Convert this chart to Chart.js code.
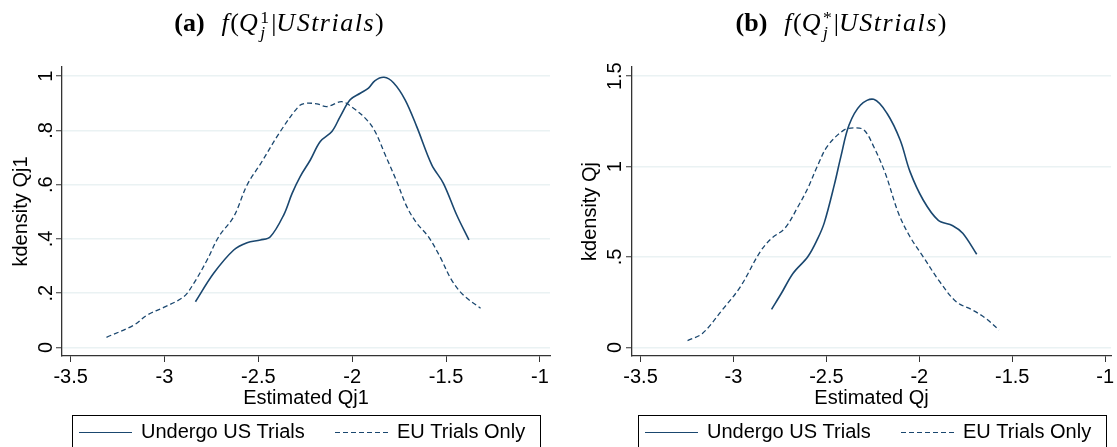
<!DOCTYPE html>
<html lang="en">
<head>
<meta charset="UTF-8">
<title>Kernel densities of estimated Qj</title>
<script src="https://cdn.jsdelivr.net/npm/chart.js@4.4.0/dist/chart.umd.min.js"></script>
<style>
  body { margin: 0; background: #fff; }
  .page { position: relative; width: 1117px; height: 447px; overflow: hidden; }
  .panel { position: absolute; top: 0; }
  .cap { position: absolute; top: 8px; font-family: "Liberation Serif", "DejaVu Serif", serif; font-size: 26px; white-space: nowrap; transform: translateX(-50%); color: #000; }
  .cap b { margin-right: 17px; }
  .cap i { letter-spacing: 1.5px; }
  .ss { display: inline-block; vertical-align: -0.42em; line-height: 0.9; font-size: 0.68em; margin: 0 2px 0 1px; }
  .ss span { display: block; }
</style>
</head>
<body>
<div class="page">
  <canvas id="panelA" class="panel" width="558" height="447" style="left:0"></canvas>
  <canvas id="panelB" class="panel" width="559" height="447" style="left:558px"></canvas>
  <div class="cap" style="left:279px"><b>(a)</b><i>f</i>(<i>Q</i><span class="ss"><span>1</span><span><i>j</i></span></span>|<i>UStrials</i>)</div>
  <div class="cap" style="left:841px"><b>(b)</b><i>f</i>(<i>Q</i><span class="ss"><span>*</span><span><i>j</i></span></span>|<i>UStrials</i>)</div>
</div>
<script>
// kernel density estimates, panel (a): Qj1
const usQj1X = [-2.835, -2.738, -2.631, -2.56, -2.489, -2.436, -2.365, -2.32, -2.277, -2.223, -2.17, -2.108, -2.064, -2.011, -1.957, -1.913, -1.878, -1.83, -1.78, -1.718, -1.656, -1.576, -1.514, -1.443, -1.378];
const usQj1Y = [0.168, 0.273, 0.359, 0.386, 0.396, 0.408, 0.488, 0.568, 0.63, 0.691, 0.759, 0.796, 0.851, 0.913, 0.937, 0.956, 0.984, 0.996, 0.976, 0.913, 0.814, 0.673, 0.605, 0.488, 0.396];
const euQj1X = [-3.309, -3.163, -3.092, -2.995, -2.897, -2.844, -2.773, -2.711, -2.631, -2.56, -2.489, -2.383, -2.286, -2.25, -2.188, -2.135, -2.055, -1.993, -1.922, -1.878, -1.824, -1.762, -1.709, -1.656, -1.594, -1.532, -1.47, -1.408, -1.316];
const euQj1Y = [0.037, 0.082, 0.119, 0.15, 0.187, 0.236, 0.322, 0.408, 0.482, 0.599, 0.676, 0.796, 0.888, 0.9, 0.898, 0.888, 0.906, 0.882, 0.839, 0.796, 0.71, 0.611, 0.519, 0.458, 0.408, 0.334, 0.248, 0.193, 0.144];

// panel (b): Qj
const usQjX = [-2.795, -2.742, -2.679, -2.6, -2.546, -2.511, -2.457, -2.422, -2.378, -2.316, -2.245, -2.174, -2.103, -2.05, -1.979, -1.899, -1.82, -1.766, -1.691];
const usQjY = [0.21, 0.299, 0.41, 0.501, 0.603, 0.69, 0.9, 1.055, 1.23, 1.341, 1.372, 1.295, 1.147, 0.972, 0.815, 0.704, 0.673, 0.631, 0.515];
const euQjX = [-3.247, -3.167, -3.061, -2.963, -2.856, -2.795, -2.723, -2.653, -2.6, -2.546, -2.493, -2.404, -2.35, -2.298, -2.245, -2.183, -2.112, -2.05, -1.979, -1.89, -1.801, -1.713, -1.642, -1.571];
const euQjY = [0.037, 0.077, 0.206, 0.335, 0.529, 0.603, 0.659, 0.778, 0.88, 1.008, 1.115, 1.203, 1.214, 1.203, 1.11, 0.963, 0.742, 0.612, 0.501, 0.363, 0.252, 0.206, 0.16, 0.096];

const xTicks = [-3.5, -3, -2.5, -2, -1.5, -1];
const yTicksA = [0, 0.2, 0.4, 0.6, 0.8, 1];
const yTicksB = [0, 0.5, 1, 1.5];
const seriesNames = ['Undergo US Trials', 'EU Trials Only'];

const navy = '#1a476f';
const axisColor = '#333333';
const gridColor = '#eaf2f3';
const sans = '"Liberation Sans", Arial, sans-serif';
const font = { family: sans, size: 20 };

const toPoints = (xs, ys) => xs.map((x, i) => ({ x: x, y: ys[i] }));
// Stata style labels: .2 instead of 0.2
const stataNum = v => String(v).replace(/^(-?)0\./, '$1.');

// legend drawn in a framed box under the plot, centred on the chart area
const boxedLegend = {
  id: 'boxedLegend',
  afterDraw(chart) {
    const { ctx, chartArea } = chart;
    const w = 468, top = 415;
    const left = Math.round((chartArea.left + chartArea.right) / 2 - w / 2);
    ctx.save();
    ctx.strokeStyle = '#000';
    ctx.lineWidth = 1;
    ctx.strokeRect(left + 0.5, top + 0.5, w, 60);
    chart.data.datasets.forEach((ds, i) => {
      const x0 = left + (i ? 263 : 7);
      const y = top + 17.5;
      ctx.strokeStyle = ds.borderColor;
      ctx.lineWidth = 1.2;
      ctx.setLineDash(ds.borderDash || []);
      ctx.beginPath();
      ctx.moveTo(x0, y);
      ctx.lineTo(x0 + 53, y);
      ctx.stroke();
      ctx.setLineDash([]);
      ctx.fillStyle = '#000';
      ctx.font = '20px ' + sans;
      ctx.textBaseline = 'middle';
      ctx.fillText(ds.label, x0 + 62, y);
    });
    ctx.restore();
  }
};

function makePanel(id, o) {
  return new Chart(document.getElementById(id), {
    type: 'line',
    data: {
      datasets: [
        { label: seriesNames[0], data: toPoints(o.usX, o.usY), borderColor: navy, borderWidth: 1.6 },
        { label: seriesNames[1], data: toPoints(o.euX, o.euY), borderColor: navy, borderWidth: 1.3, borderDash: [5, 3] }
      ]
    },
    options: {
      responsive: false,
      animation: false,
      layout: { padding: { top: 67, right: o.padRight, left: 0, bottom: 0 } },
      elements: { point: { radius: 0 }, line: { tension: 0.35, fill: false } },
      plugins: { legend: { display: false }, tooltip: { enabled: false } },
      scales: {
        x: {
          type: 'linear',
          min: o.xMin,
          max: o.xMax,
          afterBuildTicks: s => { s.ticks = xTicks.map(v => ({ value: v })); },
          afterFit: s => { s.height = 91; },
          grid: { drawOnChartArea: false, tickLength: 6, tickColor: axisColor, tickWidth: 1 },
          border: { color: axisColor, width: 1.3 },
          ticks: { font: font, color: '#000', padding: 3, maxRotation: 0, autoSkip: false, callback: stataNum },
          title: { display: true, text: o.xTitle, font: font, color: '#000', padding: { top: 0, bottom: 37 } }
        },
        y: {
          min: o.yMin,
          max: o.yMax,
          afterBuildTicks: s => { s.ticks = o.yTicks.map(v => ({ value: v })); },
          afterFit: s => { s.width = o.yWidth; },
          grid: { color: gridColor, lineWidth: 1.5, tickLength: 6, tickColor: axisColor, tickWidth: 1 },
          border: { color: axisColor, width: 1.3 },
          ticks: { font: font, color: '#000', minRotation: 90, maxRotation: 90, crossAlign: 'center', padding: o.yTickPad, autoSkip: false, callback: stataNum },
          title: { display: true, text: o.yTitle, font: font, color: '#000', padding: { top: o.yTitlePad, bottom: 0 } }
        }
      }
    },
    plugins: [boxedLegend]
  });
}

makePanel('panelA', {
  usX: usQj1X, usY: usQj1Y, euX: euQj1X, euY: euQj1Y,
  xMin: -3.546, xMax: -0.946, yMin: -0.032, yMax: 1.034, yTicks: yTicksA,
  yWidth: 62, padRight: 8, yTickPad: 1, yTitlePad: 9.7,
  xTitle: 'Estimated Qj1', yTitle: 'kdensity Qj1'
});

makePanel('panelB', {
  usX: usQjX, usY: usQjY, euX: euQjX, euY: euQjY,
  xMin: -3.546, xMax: -0.968, yMin: -0.048, yMax: 1.551, yTicks: yTicksB,
  yWidth: 74, padRight: 0, yTickPad: -3, yTitlePad: 20,
  xTitle: 'Estimated Qj', yTitle: 'kdensity Qj'
});
</script>
</body>
</html>
